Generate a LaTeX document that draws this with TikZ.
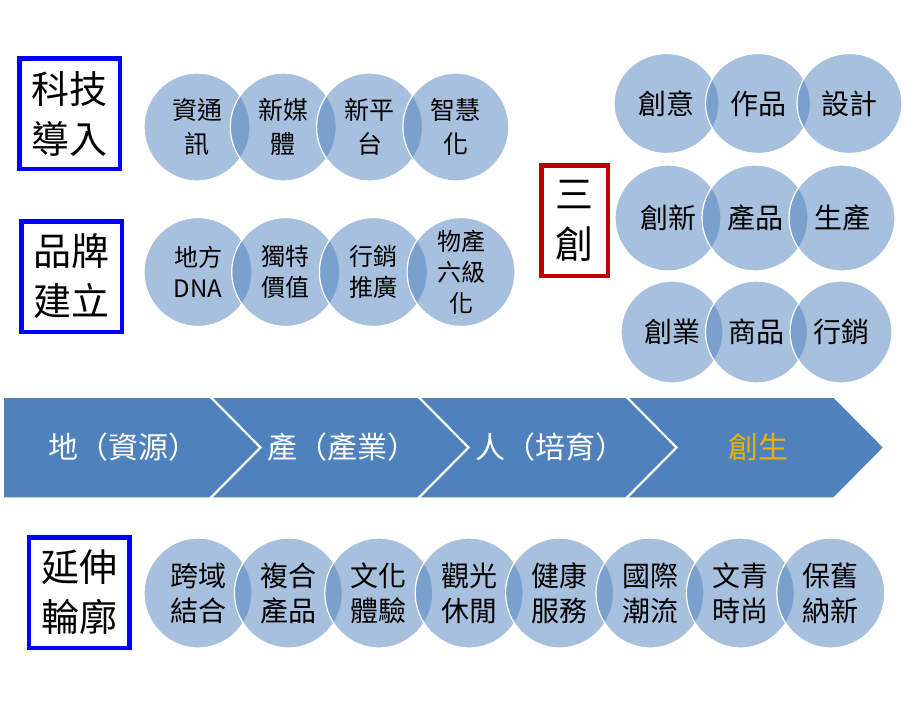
\documentclass[tikz,border=0pt]{standalone}
\usepackage{fontspec}
\newfontfamily\cjk{Noto Sans CJK TC}
\usetikzlibrary{shapes.geometric,positioning}
\definecolor{barblue}{RGB}{79,129,189}
\definecolor{tagred}{RGB}{192,0,0}
\definecolor{gold}{RGB}{240,176,0}

\begin{document}
\begin{tikzpicture}[x=1pt,y=-1pt,
  bubble/.style={ellipse,fill=barblue,fill opacity=0.5,text opacity=1,draw=white,line width=1.2pt,
                 inner sep=-12pt,align=center,font=\cjk\fontsize{25}{34}\selectfont},
  tagbox/.style={rectangle,draw=blue,line width=4.5pt,minimum width=100.5pt,minimum height=110.5pt,
                 align=center,font=\cjk\fontsize{38}{50}\selectfont},
  chev/.style={fill=barblue,draw=white,line width=1.5pt},
  chevtext/.style={text=white,font=\cjk\fontsize{30}{30}\selectfont}]
  \useasboundingbox (0,0) rectangle (918,718);

  % left tags
  \node[tagbox] (tech)  at (69.5,113.5) {科技\\導入};
  \node[tagbox] (brand) at (71.5,276.5) {品牌\\建立};
  \node[tagbox] (ext)   at (79,592.5)   {延伸\\輪廓};
  \node[tagbox,draw=tagred,minimum width=66.5pt] (three) at (574.5,220.5) {三\\創};

  % technology row
  \begin{scope}[node distance=86.3pt,bubble/.append style={minimum width=106pt,minimum height=108pt}]
  \node[bubble] (info)  at (197,127)      {資通\\訊};
  \node[bubble] (media) [right of=info]  {新媒\\體};
  \node[bubble] (plat)  [right of=media] {新平\\台};
  \node[bubble] (smart) [right of=plat]  {智慧\\化};
  \end{scope}

  % brand row
  \begin{scope}[node distance=87.7pt,bubble/.append style={minimum width=108pt,minimum height=109pt,
                font=\cjk\fontsize{24}{31}\selectfont}]
  \node[bubble] (dna)   at (198,272)      {地方\\DNA};
  \node[bubble] (value) [right of=dna]   {獨特\\價值};
  \node[bubble] (promo) [right of=value] {行銷\\推廣};
  \node[bubble] (sixth) [right of=promo] {物產\\六級\\化};
  \end{scope}

  % three creations
  \begin{scope}[bubble/.append style={font=\cjk\fontsize{28}{30}\selectfont}]
  \begin{scope}[node distance=91.5pt,bubble/.append style={minimum width=105pt,minimum height=100pt}]
  \node[bubble] (idea)   at (666.5,103.5)  {創意};
  \node[bubble] (work)   [right of=idea]  {作品};
  \node[bubble] (design) [right of=work]  {設計};
  \end{scope}
  \begin{scope}[node distance=87pt,bubble/.append style={minimum width=106pt,minimum height=106pt}]
  \node[bubble] (innov)  at (668,218)      {創新};
  \node[bubble] (prod)   [right of=innov] {產品};
  \node[bubble] (make)   [right of=prod]  {生產};
  \end{scope}
  \begin{scope}[node distance=84.5pt,bubble/.append style={minimum width=102pt,minimum height=102pt}]
  \node[bubble] (start)  at (672,332)      {創業};
  \node[bubble] (goods)  [right of=start] {商品};
  \node[bubble] (sell)   [right of=goods] {行銷};
  \end{scope}
  \end{scope}

  % chevron bar
  \draw[chev] (3,397) -- (210,397) -- (260,447.5) -- (210,498) -- (3,498) -- cycle;
  \foreach \x in {211,419,627}
    \draw[chev] (\x,397) -- ++(207,0) -- ++(50,50.5) -- ++(-50,50.5) -- ++(-207,0) -- ++(50,-50.5) -- cycle;
  \node[chevtext] (land)   at (123,447.5) {地（資源）};
  \node[chevtext] (indus)  at (342,447.5) {產（產業）};
  \node[chevtext] (people) at (550,447.5) {人（培育）};
  \node[chevtext,text=gold] (birth) at (758,447.5) {創生};

  % extension row
  \begin{scope}[node distance=90.4pt,bubble/.append style={minimum width=108pt,minimum height=110pt,
                font=\cjk\fontsize{28}{35}\selectfont}]
  \node[bubble] (cross)  at (198,593)      {跨域\\結合};
  \node[bubble] (mixed)  [right of=cross]  {複合\\產品};
  \node[bubble] (culture)[right of=mixed]  {文化\\體驗};
  \node[bubble] (tour)   [right of=culture]{觀光\\休閒};
  \node[bubble] (health) [right of=tour]   {健康\\服務};
  \node[bubble] (global) [right of=health] {國際\\潮流};
  \node[bubble] (youth)  [right of=global] {文青\\時尚};
  \node[bubble] (renew)  [right of=youth]  {保舊\\納新};
  \end{scope}
\end{tikzpicture}
\end{document}
